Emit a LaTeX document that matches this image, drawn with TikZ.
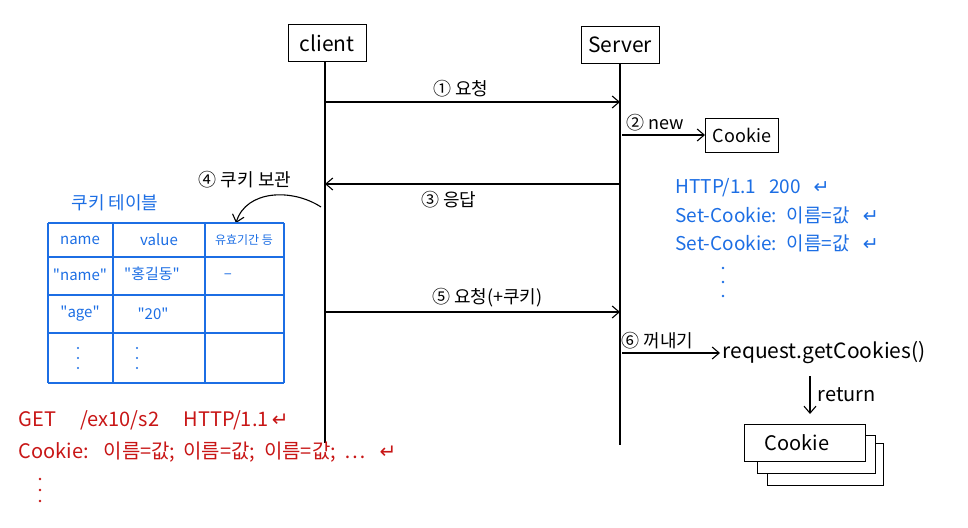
\documentclass[tikz,border=0pt]{standalone}
\usepackage{fontspec}
\setmainfont{Noto Sans CJK KR}[Ligatures=TeXOff]
\newfontfamily\symfont{DejaVu Sans}
\usetikzlibrary{arrows.meta,positioning}
\definecolor{penblue}{RGB}{28,110,228}
\definecolor{penred}{RGB}{200,22,22}
\newcommand{\enter}{{\symfont ↵}}

\begin{document}
\begin{tikzpicture}[x=1pt,y=-1pt,>={Straight Barb[length=7pt,width=12pt]},line width=1.1pt,
	actor/.style={draw=black,line width=1pt,minimum width=78pt,minimum height=36pt,font=\fontsize{21}{24}\selectfont},
	msg/.style={->},
	lbl/.style={font=\fontsize{18}{21}\selectfont},
	bluetxt/.style={text=penblue,anchor=west,inner sep=0pt,font=\fontsize{19}{22}\selectfont},
	redtxt/.style={text=penred,anchor=west,inner sep=0pt,font=\fontsize{20}{23}\selectfont},
	cell/.style={text=penblue,font=\fontsize{15}{18}\selectfont},
	tableline/.style={draw=penblue,line width=1.6pt},
	cookiebox/.style={draw=black,fill=white,line width=1pt,font=\fontsize{18}{21}\selectfont}]
	\useasboundingbox (0,0) rectangle (968,527);

	% participants and lifelines
	\node[actor]		(client)	at (327,43)		{client};
	\node[actor]		(server)	at (620,45)		{Server};
	\coordinate			(client end)	at (325,443);
	\coordinate			(server end)	at (620,445);
	\draw (client.south -| client end) -- (client end);
	\draw (server.south) -- (server end);

	% messages
	\coordinate (c1) at (325,102);	\coordinate (s1) at (620,102);
	\coordinate (c3) at (325,184);	\coordinate (s3) at (620,184);
	\coordinate (c5) at (325,312);	\coordinate (s5) at (620,312);
	\draw[msg] (c1) -- node[lbl,above=1pt,pos=0.46] {① 요청} (s1);
	\draw[msg] (s3) -- node[lbl,below=3pt,pos=0.58] {③ 응답} (c3);
	\draw[msg] (c5) -- node[lbl,above=1pt,pos=0.55] {⑤ 요청(+쿠키)} (s5);

	% new cookie on the server
	\node[cookiebox,minimum width=73pt,minimum height=34pt]	(cookie)	at (742,135)	{Cookie};
	\coordinate (s2) at (622,135);
	\draw[msg] (s2) -- node[lbl,above=0pt,pos=0.4] {② new} (cookie.west);

	% response header
	\node[bluetxt]	(resp1)	at (675,188)	{HTTP/1.1 \ \ 200 \ \ \enter};
	\node[bluetxt]	(resp2)	at (675,215)	{Set-Cookie: \ 이름=값 \ \ \enter};
	\node[bluetxt]	(resp3)	at (675,243)	{Set-Cookie: \ 이름=값 \ \ \enter};
	\foreach \y in {268,282,296}
		\fill[penblue] (723,\y) circle (1.4pt);

	% cookie store
	\node[lbl]	(keep)	at (245,180)	{④ 쿠키 보관};
	\coordinate (k1) at (321,207);
	\coordinate (k2) at (236,223);
	\draw[->] (k1) .. controls (292,188) and (246,190) .. (k2);

	\node[cell,font=\fontsize{18}{21}\selectfont]	(title)	at (115,203)	{쿠키 테이블};
	\foreach \y in {223,257,295,333,383}
		\draw[tableline] (48,\y) -- (284,\y);
	\foreach \x in {48,113,205,284}
		\draw[tableline] (\x,223) -- (\x,383);
	\node[cell]	(h name)	at (80,240)		{name};
	\node[cell]	(h value)	at (159,240)	{value};
	\node[cell,font=\fontsize{12}{14}\selectfont]	(h period)	at (244,240)	{유효기간 등};
	\node[cell]	(r1 name)	at (80,275)		{"name"};
	\node[cell]	(r1 value)	at (152,274)	{"홍길동"};
	\node[cell]	(r1 period)	at (228,276)	{–};
	\node[cell]	(r2 name)	at (80,314)		{"age"};
	\node[cell]	(r2 value)	at (153,314)	{"20"};
	\foreach \y in {348,358,368} {
		\fill[penblue] (78,\y) circle (1.2pt);
		\fill[penblue] (137,\y) circle (1.2pt);
	}

	% request header
	\node[redtxt]	(req1)	at (18,420)		{GET \quad /ex10/s2 \quad HTTP/1.1\,\enter};
	\node[redtxt]	(req2)	at (18,452)		{Cookie: \ \ 이름=값; \,이름=값; \ 이름=값; \ ⋯ \ \ \enter};
	\foreach \y in {479,490,501}
		\fill[penred] (40,\y) circle (1.4pt);

	% getting the cookies back
	\node[anchor=west,inner sep=2pt,font=\fontsize{21}{24}\selectfont]	(get)	at (720,353)	{request.getCookies()};
	\coordinate (s6) at (622,353);
	\draw[msg] (s6) -- node[lbl,above=0pt,pos=0.36] {⑥ 꺼내기} (get.west);
	\coordinate (r1) at (810,376);
	\coordinate (r2) at (810,414);
	\draw[msg] (r1) -- node[lbl,right=4pt,font=\fontsize{20}{23}\selectfont] {return} (r2);

	\node[cookiebox,minimum width=116pt,minimum height=42pt]	(stack3)	at (825,464)	{};
	\node[cookiebox,minimum width=118pt,minimum height=38pt]	(stack2)	at (816,454)	{};
	\node[cookiebox,minimum width=121pt,minimum height=37pt,font=\fontsize{20}{23}\selectfont]	(stack1)	at (805,443)	{\hspace*{-16pt}Cookie};
\end{tikzpicture}
\end{document}
